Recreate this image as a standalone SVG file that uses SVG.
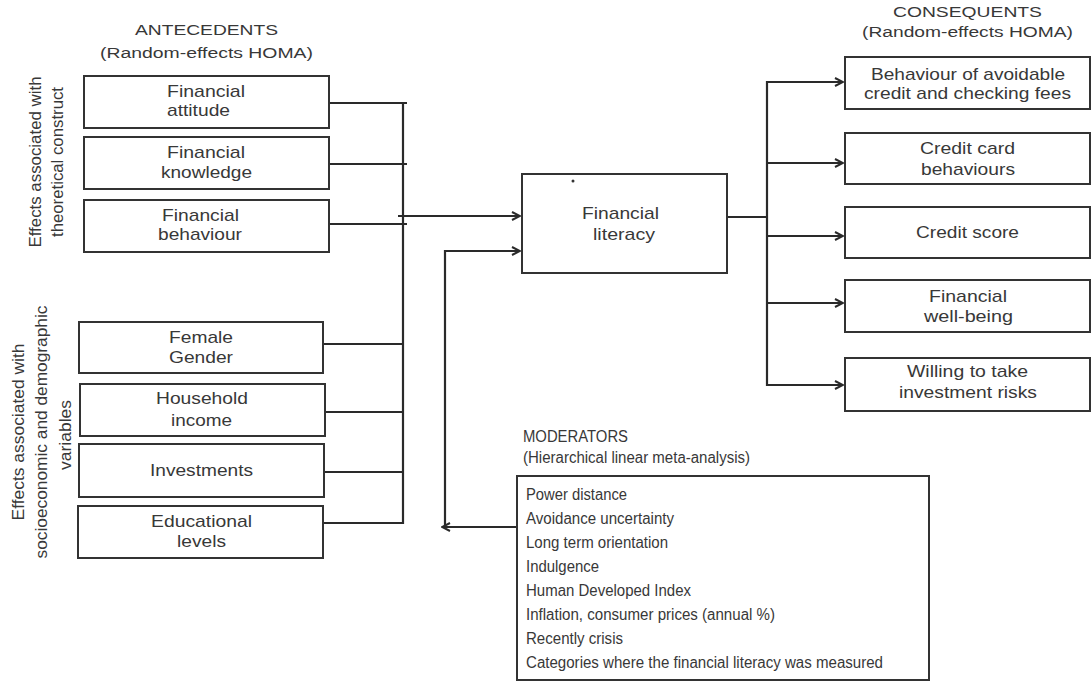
<svg xmlns="http://www.w3.org/2000/svg" width="1092" height="682" viewBox="0 0 1092 682">
<style>
text{font-family:"Liberation Sans",Arial,sans-serif;fill:#383838;}
.lb{font-size:17px;}
.hd{font-size:15.5px;}
.md{font-size:16px;}
.rt{font-size:17px;text-anchor:middle;}
.box{fill:#fff;stroke:#333;stroke-width:2;}
.ln{fill:none;stroke:#2a2a2a;stroke-width:2.2;}
</style>
<defs>
<marker id="ah" viewBox="0 0 10 10" refX="9" refY="5" markerWidth="10" markerHeight="10" markerUnits="userSpaceOnUse" orient="auto">
<path d="M1,1 L9,5 L1,9" fill="none" stroke="#2a2a2a" stroke-width="2"/>
</marker>
</defs>
<rect width="1092" height="682" fill="#fff"/>

<g id="headers">
<text class="hd" x="135" y="35" textLength="143" lengthAdjust="spacingAndGlyphs">ANTECEDENTS</text>
<text class="hd" x="100" y="58" textLength="213" lengthAdjust="spacingAndGlyphs">(Random-effects HOMA)</text>
<text class="hd" x="893" y="17" textLength="149" lengthAdjust="spacingAndGlyphs">CONSEQUENTS</text>
<text class="hd" x="862" y="37" textLength="211" lengthAdjust="spacingAndGlyphs">(Random-effects HOMA)</text>
<text class="md" x="523" y="442" textLength="105" lengthAdjust="spacingAndGlyphs">MODERATORS</text>
<text class="md" x="523" y="463" textLength="227" lengthAdjust="spacingAndGlyphs">(Hierarchical linear meta-analysis)</text>
</g>

<g id="side-labels">
<text class="rt" x="41" y="162" transform="rotate(-90 41 162)" textLength="171" lengthAdjust="spacingAndGlyphs">Effects associated with</text>
<text class="rt" x="63" y="162" transform="rotate(-90 63 162)" textLength="150" lengthAdjust="spacingAndGlyphs">theoretical construct</text>
<text class="rt" x="24" y="432" transform="rotate(-90 24 432)" textLength="177" lengthAdjust="spacingAndGlyphs">Effects associated with</text>
<text class="rt" x="47" y="432" transform="rotate(-90 47 432)" textLength="253" lengthAdjust="spacingAndGlyphs">socioeconomic and demographic</text>
<text class="rt" x="71" y="435" transform="rotate(-90 71 435)" textLength="70" lengthAdjust="spacingAndGlyphs">variables</text>
</g>

<g id="connectors">
<path class="ln" d="M329,103 H407 M329,164 H407 M329,224 H407 M323,344 H403 M323,412 H403 M323,472 H403 M323,523 H403"/>
<path class="ln" d="M403,102 V524"/>
<path class="ln" d="M398,216 H520" marker-end="url(#ah)"/>
<path class="ln" d="M445,528 V251 H520" marker-end="url(#ah)"/>
<path class="ln" d="M517,527 H442" marker-end="url(#ah)"/>
<path class="ln" d="M727,217 H767 M767,81 V386"/>
<path class="ln" d="M767,82 H843" marker-end="url(#ah)"/>
<path class="ln" d="M767,163 H843" marker-end="url(#ah)"/>
<path class="ln" d="M767,236 H843" marker-end="url(#ah)"/>
<path class="ln" d="M767,303 H843" marker-end="url(#ah)"/>
<path class="ln" d="M767,385 H843" marker-end="url(#ah)"/>
</g>

<g id="n-attitude"><rect class="box" x="84" y="76" width="245" height="52"/>
<text class="lb" x="167" y="97" textLength="78" lengthAdjust="spacingAndGlyphs">Financial</text>
<text class="lb" x="167" y="116" textLength="63" lengthAdjust="spacingAndGlyphs">attitude</text></g>
<g id="n-knowledge"><rect class="box" x="84" y="137" width="245" height="52"/>
<text class="lb" x="167" y="158" textLength="78" lengthAdjust="spacingAndGlyphs">Financial</text>
<text class="lb" x="161" y="178" textLength="91" lengthAdjust="spacingAndGlyphs">knowledge</text></g>
<g id="n-behaviour"><rect class="box" x="84" y="200" width="245" height="52"/>
<text class="lb" x="162" y="221" textLength="77" lengthAdjust="spacingAndGlyphs">Financial</text>
<text class="lb" x="158" y="240" textLength="84" lengthAdjust="spacingAndGlyphs">behaviour</text></g>

<g id="n-gender"><rect class="box" x="79" y="322" width="244" height="51"/>
<text class="lb" x="169" y="343" textLength="64" lengthAdjust="spacingAndGlyphs">Female</text>
<text class="lb" x="169" y="363" textLength="64" lengthAdjust="spacingAndGlyphs">Gender</text></g>
<g id="n-income"><rect class="box" x="80" y="384" width="245" height="52"/>
<text class="lb" x="156" y="404" textLength="92" lengthAdjust="spacingAndGlyphs">Household</text>
<text class="lb" x="171" y="426" textLength="61" lengthAdjust="spacingAndGlyphs">income</text></g>
<g id="n-investments"><rect class="box" x="79" y="444" width="245" height="53"/>
<text class="lb" x="150" y="476" textLength="103" lengthAdjust="spacingAndGlyphs">Investments</text></g>
<g id="n-education"><rect class="box" x="78" y="506" width="245" height="52"/>
<text class="lb" x="151" y="527" textLength="101" lengthAdjust="spacingAndGlyphs">Educational</text>
<text class="lb" x="177" y="547" textLength="49" lengthAdjust="spacingAndGlyphs">levels</text></g>

<g id="n-literacy"><rect class="box" x="522" y="174" width="205" height="99"/>
<circle cx="573" cy="181" r="1.5" fill="#333"/>
<text class="lb" x="582" y="219" textLength="77" lengthAdjust="spacingAndGlyphs">Financial</text>
<text class="lb" x="593" y="240" textLength="62" lengthAdjust="spacingAndGlyphs">literacy</text></g>

<g id="n-fees"><rect class="box" x="845" y="57" width="245" height="52"/>
<text class="lb" x="871" y="80" textLength="194" lengthAdjust="spacingAndGlyphs">Behaviour of avoidable</text>
<text class="lb" x="864" y="99" textLength="207" lengthAdjust="spacingAndGlyphs">credit and checking fees</text></g>
<g id="n-card"><rect class="box" x="845" y="133" width="245" height="51"/>
<text class="lb" x="920" y="154" textLength="95" lengthAdjust="spacingAndGlyphs">Credit card</text>
<text class="lb" x="921" y="175" textLength="94" lengthAdjust="spacingAndGlyphs">behaviours</text></g>
<g id="n-score"><rect class="box" x="845" y="207" width="245" height="51"/>
<text class="lb" x="916" y="238" textLength="103" lengthAdjust="spacingAndGlyphs">Credit score</text></g>
<g id="n-wellbeing"><rect class="box" x="845" y="280" width="245" height="52"/>
<text class="lb" x="929" y="302" textLength="78" lengthAdjust="spacingAndGlyphs">Financial</text>
<text class="lb" x="924" y="322" textLength="89" lengthAdjust="spacingAndGlyphs">well-being</text></g>
<g id="n-risks"><rect class="box" x="845" y="358" width="245" height="53"/>
<text class="lb" x="907" y="377" textLength="121" lengthAdjust="spacingAndGlyphs">Willing to take</text>
<text class="lb" x="899" y="398" textLength="138" lengthAdjust="spacingAndGlyphs">investment risks</text></g>

<g id="n-moderators"><rect class="box" x="517" y="476" width="412" height="204"/>
<text class="md" x="526" y="500" textLength="101" lengthAdjust="spacingAndGlyphs">Power distance</text>
<text class="md" x="526" y="524" textLength="148" lengthAdjust="spacingAndGlyphs">Avoidance uncertainty</text>
<text class="md" x="526" y="548" textLength="142" lengthAdjust="spacingAndGlyphs">Long term orientation</text>
<text class="md" x="526" y="572" textLength="73" lengthAdjust="spacingAndGlyphs">Indulgence</text>
<text class="md" x="526" y="596" textLength="165" lengthAdjust="spacingAndGlyphs">Human Developed Index</text>
<text class="md" x="526" y="620" textLength="249" lengthAdjust="spacingAndGlyphs">Inflation, consumer prices (annual %)</text>
<text class="md" x="526" y="644" textLength="97" lengthAdjust="spacingAndGlyphs">Recently crisis</text>
<text class="md" x="526" y="668" textLength="357" lengthAdjust="spacingAndGlyphs">Categories where the financial literacy was measured</text></g>
</svg>
